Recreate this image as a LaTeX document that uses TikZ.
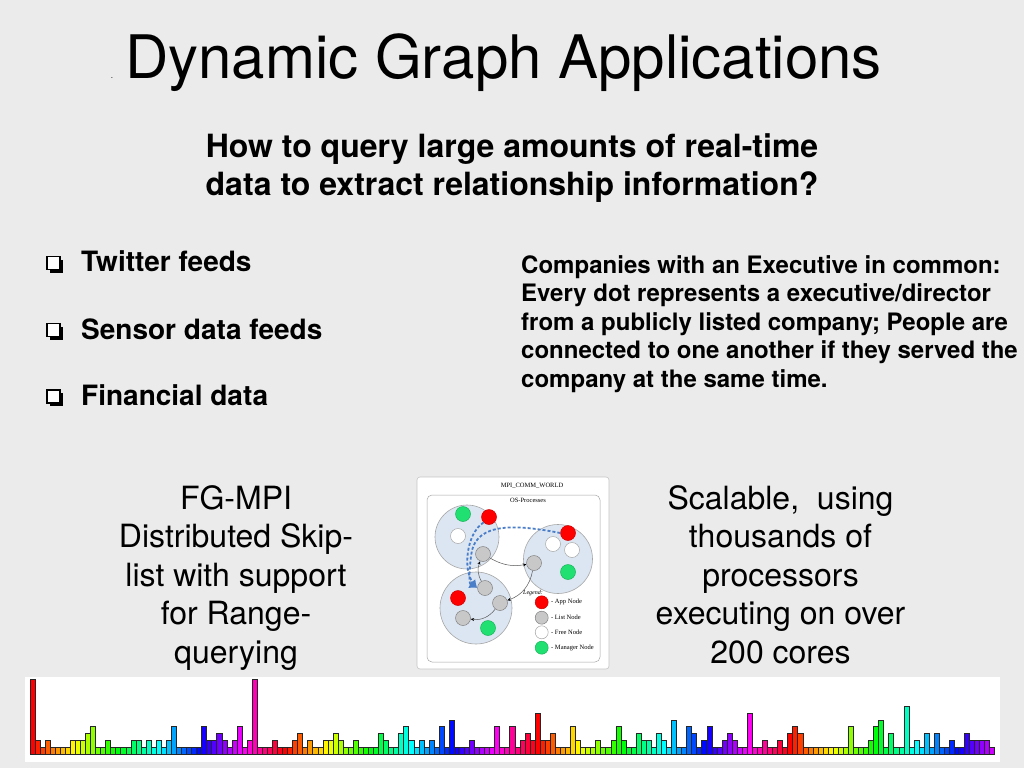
\documentclass[tikz,border=0pt]{standalone}
\usepackage{fontspec}
\setmainfont{TeX Gyre Heros}
\newfontfamily\tms{Liberation Serif}
\usetikzlibrary{arrows.meta}
\definecolor{bgc}{HTML}{EBEBEB}
\definecolor{procfill}{HTML}{DCE6F2}
\definecolor{procdraw}{HTML}{A6A6A6}
\definecolor{appred}{HTML}{FF0000}
\definecolor{listgray}{HTML}{C8C8C8}
\definecolor{mgrgreen}{HTML}{1FE070}
\definecolor{dashblue}{HTML}{4A7EC8}
\begin{document}
\begin{tikzpicture}[x=1pt,y=-1pt,
  titlef/.style={font=\fontsize{60}{72}\selectfont, inner sep=0, anchor=base},
  subtitle/.style={font=\fontsize{32}{38}\selectfont\bfseries, inner sep=0, anchor=base},
  bullettxt/.style={font=\fontsize{28}{33}\selectfont\bfseries, inner sep=0, anchor=base west},
  para/.style={font=\fontsize{24}{28}\selectfont\bfseries, inner sep=0, anchor=base west},
  bigtxt/.style={font=\fontsize{32}{38}\selectfont, inner sep=0, anchor=base},
  proc/.style={circle, fill=procfill, draw=procdraw, line width=0.6pt, inner sep=0},
  dotn/.style={circle, minimum size=15pt, inner sep=0, line width=0.5pt},
  app/.style={dotn, fill=appred, draw=appred!80!black},
  lst/.style={dotn, fill=listgray, draw=gray},
  fre/.style={dotn, fill=white, draw=gray!70},
  mgr/.style={dotn, fill=mgrgreen, draw=mgrgreen!80!black},
  tinyt/.style={font=\tms\fontsize{6.5}{7.5}\selectfont, inner sep=0},
  conn/.style={draw=gray!70!black, line width=0.5pt, -{Stealth[length=3.5pt,width=3pt,black]}},
  blued/.style={draw=dashblue, line width=1.8pt, dash pattern=on 3pt off 2pt, -{Latex[length=8pt,width=8pt]}},
  barstyle/.style={draw=black!85, line width=0.9pt},
  sqbullet/.pic={\fill[black] (3,3) rectangle (16,16);
                 \filldraw[fill=white, draw=black, line width=1.5pt] (0,0) rectangle (13,13);},
]
\useasboundingbox (0,0) rectangle (1024,768);
\fill[bgc] (0,0) rectangle (1024,768);

% title
\node[titlef] (title) at (503.5,78.5) {Dynamic Graph Applications};
\node[font=\fontsize{8}{9}\selectfont, inner sep=0, anchor=base] (tdot) at (112,78) {.};

% subtitle
\node[subtitle] (sub1) at (512,157) {How to query large amounts of real-time};
\node[subtitle] (sub2) at (512,195) {data to extract relationship information?};

% bullets
\pic at (47,256.5) {sqbullet};
\node[bullettxt] (b1) at (81,271) {Twitter feeds};
\pic at (47,323.5) {sqbullet};
\node[bullettxt] (b2) at (81,339) {Sensor data feeds};
\pic at (47,390) {sqbullet};
\node[bullettxt] (b3) at (81,405) {Financial data};

% right paragraph
\foreach \t [count=\i from 0] in {{Companies with an Executive in common:},
  {Every dot represents a executive/director},
  {from a publicly listed company; People are},
  {connected to one another if they served the},
  {company at the same time.}}
  \node[para] (p\i) at (521,{273.5+28.4*\i}) {\t};

% lower texts
\foreach \t [count=\i from 0] in {{FG-MPI},{Distributed Skip-},{list with support},{for Range-},{querying}}
  \node[bigtxt] (l\i) at (236,{509+38.6*\i}) {\t};
\foreach \t [count=\i from 0] in {{Scalable,~ using},{thousands of},{processors},{executing on over},{200 cores}}
  \node[bigtxt] (r\i) at (780.5,{509+38.6*\i}) {\t};

% central diagram
\filldraw[fill=white, draw=gray!45, line width=0.6pt, rounded corners=3pt] (417,477) rectangle (609,669);
\node[tinyt] (world) at (532,486) {MPI\_COMM\_WORLD};
\filldraw[fill=white, draw=gray!70, line width=0.5pt, rounded corners=5pt] (427,495) rectangle (600,662);
\node[tinyt] (osp) at (528,500.5) {OS-Processes};

\node[proc, minimum size=64pt] (pA) at (467,537) {};
\node[proc, minimum size=69pt] (pB) at (558,559) {};
\node[proc, minimum size=72pt] (pC) at (476,608) {};

\node[mgr] (gA) at (463,514) {};
\node[app] (rA) at (489,517) {};
\node[fre] (wA) at (458,536) {};
\node[lst] (lA) at (483,554) {};

\node[app] (rB) at (568,533) {};
\node[fre] (wB1) at (553,544) {};
\node[fre] (wB2) at (572,550) {};
\node[lst] (lB) at (534,563) {};
\node[mgr] (gB) at (568,572) {};

\node[lst] (lC1) at (485,588) {};
\node[app] (rC) at (458,598) {};
\node[lst] (lC2) at (500,603) {};
\node[lst] (lC3) at (463,618) {};
\node[mgr] (gC) at (488,628) {};

\draw[conn] (lC1) to[bend left=25] (lA);
\draw[conn] (lA) to[bend right=20] (lB);
\draw[conn] (lB) to[bend left=30] (lC2);
\draw[conn] (lC2) to[bend left=30] (lC3);

\draw[blued] (rB.west) .. controls (505,522) and (474,526) .. (471,556) .. controls (469,575) and (469,584) .. (lC1.west);
\draw[blued] (rA.south west) .. controls (466,534) and (463,570) .. (lC1.west);

% legend
\node[tinyt, font=\tms\itshape\fontsize{6}{7}\selectfont] (leg) at (533,593.5) {Legend:};
\node[app, minimum size=13pt] (k1) at (541.7,602.3) {};
\node[lst, minimum size=13pt] (k2) at (541.7,617.7) {};
\node[fre, minimum size=13pt] (k3) at (541.7,632.3) {};
\node[mgr, minimum size=13pt] (k4) at (541.7,647.7) {};
\node[tinyt, anchor=west] (kt1) at (551,602.3) {- App Node};
\node[tinyt, anchor=west] (kt2) at (551,617.7) {- List Node};
\node[tinyt, anchor=west] (kt3) at (551,632.3) {- Free Node};
\node[tinyt, anchor=west] (kt4) at (551,647.7) {- Manager Node};

% bar chart
\fill[white] (25,677) rectangle (1000,762);
\foreach \h [count=\k from 0] in {
 11,2,1,2,1,1,1,1,2,2,
 2,3,4,1,1,2,1,1,1,1,
 2,2,1,2,1,2,1,2,4,1,
 1,1,1,1,4,2,2,3,2,1,
 2,4,1,2,11,1,1,1,2,1,
 1,1,2,3,1,2,1,1,2,2,
 3,2,1,1,2,1,1,1,1,3,
 2,1,1,3,4,2,1,2,1,2,
 1,4,1,5,1,1,1,2,1,1,
 1,1,4,1,1,4,1,2,3,2,
 6,2,2,3,1,1,1,4,2,1,
 1,1,2,1,1,2,4,2,1,1,
 3,2,2,1,3,2,1,
 5,1,1,4,3,1,2,4,1,1,
 2,3,2,1,1,6,1,1,2,1,
 1,2,1,3,4,3,1,1,1,1,
 1,1,1,1,1,4,1,1,1,2,
 4,5,1,3,1,1,7,1,2,1,
 3,1,3,1,1,2,1,1,3,2,
 2,2,2,1} {
  \pgfmathsetmacro\hue{mod(\k*0.02,1)}
  \definecolor{barhsb}{hsb}{\hue,1,1}
  \colorlet{barc}[rgb]{barhsb}
  \filldraw[barstyle, fill=barc] ({30+\k*5.052},754) rectangle ({35.052+\k*5.052},{754-\h*6.8});
}
\end{tikzpicture}
\end{document}
